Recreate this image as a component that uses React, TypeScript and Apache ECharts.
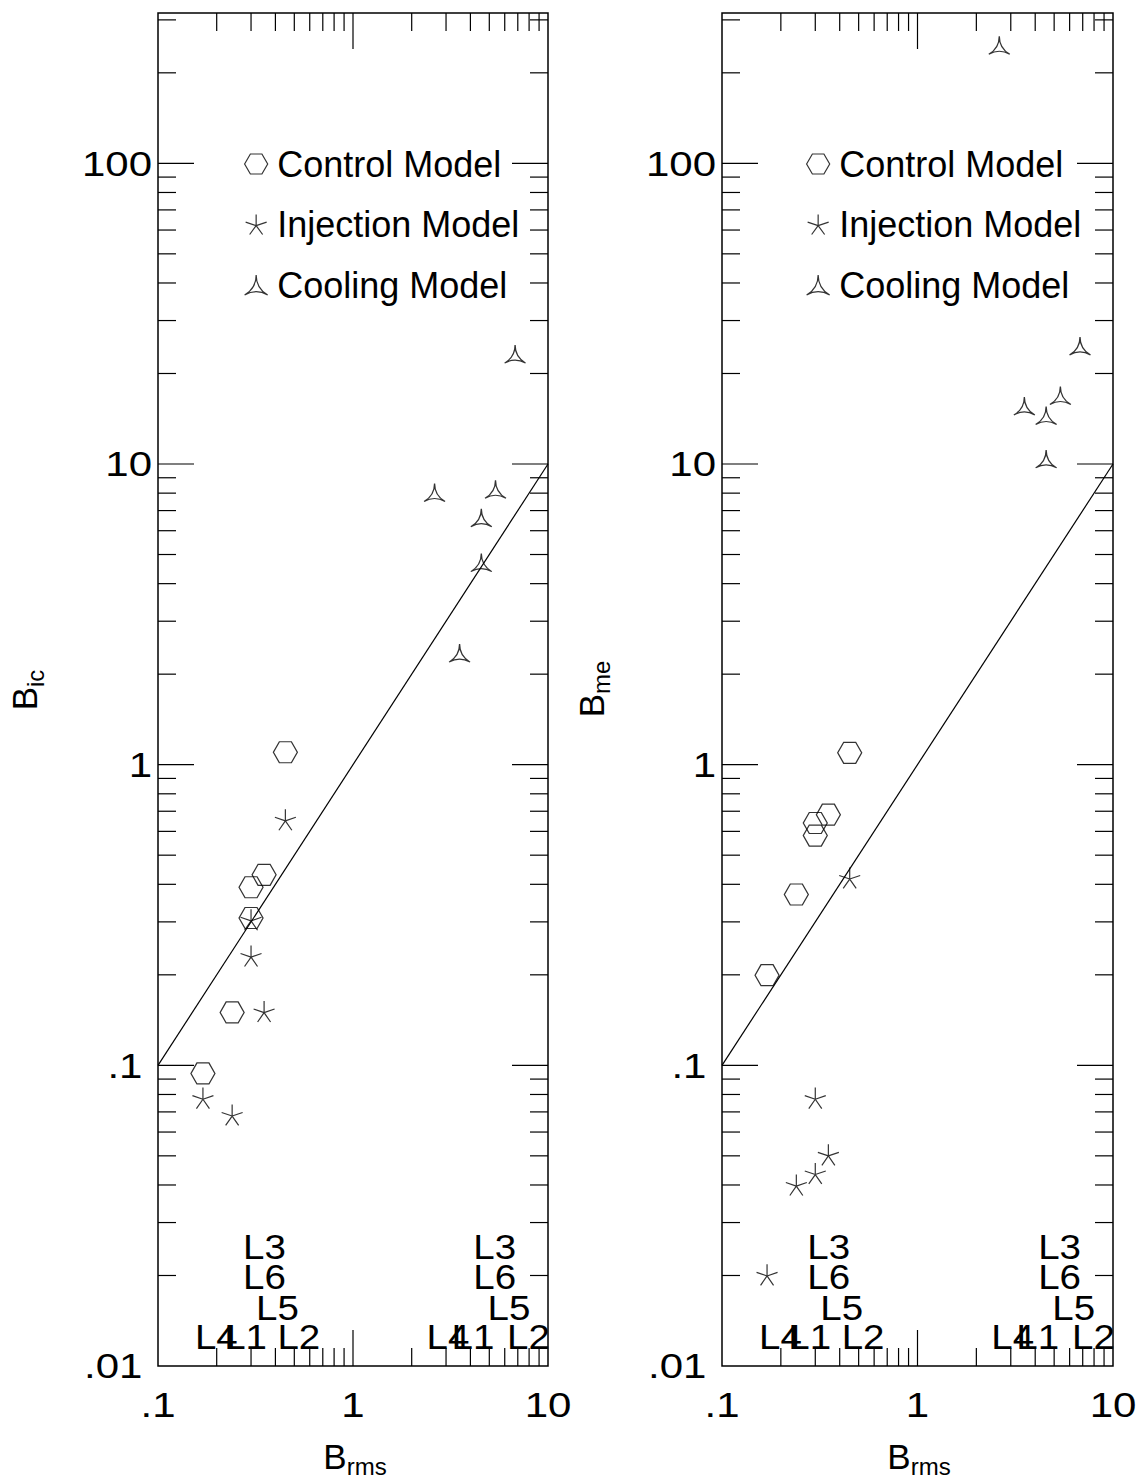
import React, { useEffect, useRef } from 'react';
import * as echarts from 'echarts';

const FONT = "'Liberation Sans', Arial, Helvetica, sans-serif";

// ---------- data ----------
const modelNames = ['Control Model', 'Injection Model', 'Cooling Model'];
const runLabels = ['L1', 'L2', 'L3', 'L4', 'L5', 'L6'];
// B_rms of each run (control / injection runs, cooling runs)
const brmsLow = [0.24, 0.45, 0.30, 0.17, 0.35, 0.30];
const brmsHigh = [3.52, 6.78, 4.55, 2.62, 5.38, 4.55];
// vertical position of the run labels
const runLabelY = [0.0125, 0.0125, 0.0249, 0.0125, 0.0156, 0.0198];

// left panel: B_ic
const icControl = [0.150, 1.10, 0.391, 0.094, 0.43, 0.309];
const icInjection = [0.0684, 0.656, 0.305, 0.0778, 0.151, 0.231];
const icCooling = [2.35, 23.2, 6.63, 8.04, 8.24, 4.70];
// right panel: B_me
const meControl = [0.370, 1.095, 0.640, 0.1995, 0.682, 0.581];
const meInjection = [0.040, 0.420, 0.0778, 0.0201, 0.0504, 0.0437];
const meCooling = [15.6, 24.7, 14.5, 247, 16.9, 10.4];

// one-to-one line
const unityLine = [[0.1, 0.1], [10, 10]];

// axes
const xMin = 0.1, xMax = 10;
const yMin = 0.01, yMax = 316.2278;
const xLabelValues = [0.1, 1, 10];
const xLabelText = ['.1', '1', '10'];
const yLabelValues = [0.01, 0.1, 1, 10, 100];
const yLabelText = ['.01', '.1', '1', '10', '100'];
const xMajorTicks = [1];
const xMinorTicks = [0.2, 0.3, 0.4, 0.5, 0.6, 0.7, 0.8, 0.9, 2, 3, 4, 5, 6, 7, 8, 9];
const yMajorTicks = [0.1, 1, 10, 100];
const yMinorTicks = [0.02, 0.03, 0.04, 0.05, 0.06, 0.07, 0.08, 0.09,
  0.2, 0.3, 0.4, 0.5, 0.6, 0.7, 0.8, 0.9, 2, 3, 4, 5, 6, 7, 8, 9,
  20, 30, 40, 50, 60, 70, 80, 90, 200, 300];

// ---------- symbols ----------
const hexPath = 'path://M-12 0L-6 -10.392L6 -10.392L12 0L6 10.392L-6 10.392Z';
const starPath = 'path://M0 0L0 -12M0 0L11.41 -3.71M0 0L7.05 9.71M0 0L-7.05 9.71M0 0L-11.41 -3.71';
const triPath = 'path://M0 -12Q0 0 10.392 6Q0 0 -10.392 6Q0 0 0 -12Z';
const symbols = [hexPath, starPath, triPath];
const symbolSizes = [[24, 21], [21, 21], [21, 18]];

function tickData() {
  const d: number[][] = [];
  const add = (arr: number[], major: number) => {
    arr.forEach((v) => {
      d.push([v, yMin, 0, major]);
      d.push([v, yMax, 1, major]);
    });
  };
  add(xMajorTicks, 1);
  add(xMinorTicks, 0);
  const addY = (arr: number[], major: number) => {
    arr.forEach((v) => {
      d.push([xMin, v, 2, major]);
      d.push([xMax, v, 3, major]);
    });
  };
  addY(yMajorTicks, 1);
  addY(yMinorTicks, 0);
  return d;
}

function tickSeries(idx: number) {
  return {
    type: 'custom',
    xAxisIndex: idx,
    yAxisIndex: idx,
    silent: true,
    clip: false,
    data: tickData(),
    renderItem: (params: any, api: any) => {
      const p = api.coord([api.value(0), api.value(1)]);
      const side = api.value(2);
      const len = api.value(3) ? 36 : 18;
      let x2 = p[0], y2 = p[1];
      if (side === 0) y2 -= len;
      else if (side === 1) y2 += len;
      else if (side === 2) x2 += len;
      else x2 -= len;
      return {
        type: 'line',
        shape: { x1: p[0], y1: p[1], x2, y2 },
        style: { stroke: '#000', lineWidth: 1.2 },
      };
    },
  };
}

// tick labels drawn at the axis scale positions (slightly wide font as in the original)
function tickLabelSeries(idx: number) {
  const data: number[][] = [];
  const texts: string[] = [];
  xLabelValues.forEach((v, i) => { data.push([v, yMin, 0]); texts.push(xLabelText[i]); });
  yLabelValues.forEach((v, i) => { data.push([xMin, v, 1]); texts.push(yLabelText[i]); });
  return {
    type: 'custom',
    xAxisIndex: idx,
    yAxisIndex: idx,
    silent: true,
    clip: false,
    data,
    renderItem: (params: any, api: any) => {
      const p = api.coord([api.value(0), api.value(1)]);
      const text = texts[params.dataIndex];
      const isX = api.value(2) === 0;
      const x = isX ? p[0] : p[0] - 6 - (text.charAt(0) === '.' ? 9.6 : 0);
      const y = isX ? p[1] + 39 : p[1];
      return {
        type: 'text',
        x,
        y,
        scaleX: 1.2,
        scaleY: 1,
        style: {
          text,
          fontFamily: FONT,
          fontSize: 35,
          fill: '#000',
          align: isX ? 'center' : 'right',
          verticalAlign: 'middle',
          textAlign: isX ? 'center' : 'right',
          textVerticalAlign: 'middle',
        },
      };
    },
  };
}

function pointSeries(idx: number, k: number, xs: number[], ys: number[]) {
  return {
    type: 'scatter',
    name: modelNames[k],
    xAxisIndex: idx,
    yAxisIndex: idx,
    symbol: symbols[k],
    symbolSize: symbolSizes[k],
    itemStyle: { color: 'rgba(0,0,0,0)', borderColor: '#000', borderWidth: 1.2 },
    data: xs.map((x, i) => [x, ys[i]]),
    z: 5,
  };
}

function runLabelSeries(idx: number, xs: number[]) {
  return {
    type: 'custom',
    xAxisIndex: idx,
    yAxisIndex: idx,
    silent: true,
    clip: false,
    data: xs.map((x, i) => [x, runLabelY[i]]),
    renderItem: (params: any, api: any) => {
      const p = api.coord([api.value(0), api.value(1)]);
      return {
        type: 'text',
        x: p[0] - 8,
        y: p[1],
        scaleX: 1.1,
        scaleY: 1,
        style: {
          text: runLabels[params.dataIndex],
          fontFamily: FONT,
          fontSize: 35,
          fill: '#000',
          align: 'left',
          verticalAlign: 'middle',
          textAlign: 'left',
          textVerticalAlign: 'middle',
        },
      };
    },
    z: 4,
  };
}

function lineSeries(idx: number) {
  return {
    type: 'line',
    xAxisIndex: idx,
    yAxisIndex: idx,
    symbol: 'none',
    silent: true,
    lineStyle: { color: '#000', width: 1.2 },
    data: unityLine,
  };
}

function xAxis(idx: number) {
  return {
    type: 'log',
    logBase: 10,
    gridIndex: idx,
    min: xMin,
    max: xMax,
    axisLine: { show: false },
    axisTick: { show: false },
    splitLine: { show: false },
    axisLabel: { show: false },
  };
}

function yAxis(idx: number) {
  return {
    type: 'log',
    logBase: 10,
    gridIndex: idx,
    min: yMin,
    max: yMax,
    axisLine: { show: false },
    axisTick: { show: false },
    splitLine: { show: false },
    axisLabel: { show: false },
  };
}

function nameGroup(x: number, y: number, main: string, sub: string, mainW: number, subW: number, rotate: boolean) {
  const total = mainW + subW;
  return {
    type: 'group',
    x,
    y,
    rotation: rotate ? Math.PI / 2 : 0,
    silent: true,
    children: [
      {
        type: 'text',
        x: -total / 2,
        y: 0,
        style: {
          text: main, fontFamily: FONT, fontSize: 35, fill: '#000',
          align: 'left', verticalAlign: 'middle', textAlign: 'left', textVerticalAlign: 'middle',
        },
      },
      {
        type: 'text',
        x: -total / 2 + mainW,
        y: 10.8,
        style: {
          text: sub, fontFamily: FONT, fontSize: 24, fill: '#000',
          align: 'left', verticalAlign: 'middle', textAlign: 'left', textVerticalAlign: 'middle',
        },
      },
    ],
  };
}

function legend(left: number) {
  return {
    orient: 'vertical',
    left,
    top: 146,
    padding: 0,
    itemGap: 24.5,
    itemWidth: 32,
    itemHeight: 20,
    selectedMode: false,
    data: modelNames.map((n, k) => ({ name: n, icon: symbols[k] })),
    itemStyle: { color: 'rgba(0,0,0,0)', borderColor: '#000', borderWidth: 1.2 },
    textStyle: { fontFamily: FONT, fontSize: 36, color: '#000' },
  };
}

const option: any = {
  animation: false,
  backgroundColor: '#fff',
  grid: [
    { left: 158, top: 13, width: 390, height: 1353, show: true, borderColor: '#000', borderWidth: 1.5, backgroundColor: 'rgba(0,0,0,0)' },
    { left: 722, top: 13, width: 391, height: 1353, show: true, borderColor: '#000', borderWidth: 1.5, backgroundColor: 'rgba(0,0,0,0)' },
  ],
  xAxis: [xAxis(0), xAxis(1)],
  yAxis: [yAxis(0), yAxis(1)],
  legend: [legend(244), legend(806)],
  series: [
    tickSeries(0),
    tickSeries(1),
    tickLabelSeries(0),
    tickLabelSeries(1),
    lineSeries(0),
    lineSeries(1),
    pointSeries(0, 0, brmsLow, icControl),
    pointSeries(0, 1, brmsLow, icInjection),
    pointSeries(0, 2, brmsHigh, icCooling),
    pointSeries(1, 0, brmsLow, meControl),
    pointSeries(1, 1, brmsLow, meInjection),
    pointSeries(1, 2, brmsHigh, meCooling),
    runLabelSeries(0, brmsLow),
    runLabelSeries(0, brmsHigh),
    runLabelSeries(1, brmsLow),
    runLabelSeries(1, brmsHigh),
  ],
  graphic: [
    nameGroup(355, 1456, 'B', 'rms', 23.35, 40, false),
    nameGroup(919, 1456, 'B', 'rms', 23.35, 40, false),
    nameGroup(24.6, 690, 'B', 'ic', 23.35, 17.3, true),
    nameGroup(591, 689, 'B', 'me', 23.35, 33.3, true),
  ],
};

export default function App() {
  const ref = useRef<HTMLDivElement>(null);
  useEffect(() => {
    const chart = echarts.init(ref.current!, null, { renderer: 'svg' });
    chart.setOption(option);
    return () => chart.dispose();
  }, []);
  return (
    <div
      ref={ref}
      style={{ position: 'absolute', left: 0, top: 0, width: 1138, height: 1479, background: '#fff' }}
    />
  );
}
